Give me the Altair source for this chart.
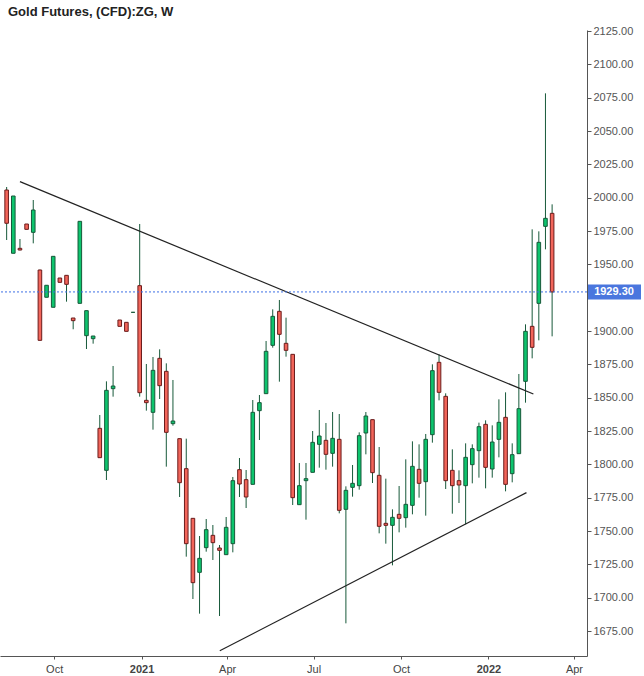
import altair as alt
import pandas as pd

# Weekly candles (positioned mid-week)
dates = list(pd.date_range("2020-08-12", periods=83, freq="7D").strftime("%Y-%m-%dT00:00:00"))

opens = [2005.75, 1958.3, 1962, 1980.25, 1974, 1945.75, 1925.3, 1917.8, 1939.75, 1941.75,
         1909.75, 1920.75, 1896.5, 1894.25, 1827, 1795.5, 1856.75, 1908.25, 1906.5, 1914,
         1934, 1848, 1839, 1879.5, 1869.75, 1830.5, 1819.25, 1796.75, 1759.5, 1719,
         1737.5, 1746.75, 1737.25, 1732.25, 1740.5, 1796, 1788.5, 1785, 1840.25, 1853,
         1889.25, 1914.75, 1890.75, 1882.5, 1769.75, 1787.75, 1794, 1815, 1818, 1808.25,
         1818.75, 1766.25, 1782.75, 1784, 1823.5, 1833.5, 1791.75, 1755.75, 1754.25, 1762.5,
         1760, 1769.25, 1796.25, 1787, 1822.25, 1876.5, 1851, 1795.5, 1787.75, 1784,
         1799.75, 1810.25, 1830, 1796.5, 1818.75, 1835.25, 1793, 1808, 1862.25, 1903.5,
         1920.75, 1978.5, 1988.25]

highs = [2008, 2001.25, 1969, 1980.25, 1998.25, 1946, 1934.3, 1956, 1939.75, 1941.75,
         1909.75, 1982.25, 1915.25, 1896.25, 1837, 1862.25, 1873.75, 1908.25, 1906.5, 1914,
         1980.25, 1875.25, 1880.5, 1886.25, 1875.75, 1863.25, 1819.25, 1819.25, 1759.5, 1746.25,
         1759, 1754.5, 1739.5, 1760.5, 1790.5, 1804.75, 1795.75, 1848.25, 1852, 1892.5,
         1916.25, 1923.25, 1910, 1882.5, 1801, 1801, 1825, 1840.75, 1831, 1839.25,
         1837.75, 1783.5, 1799.5, 1824, 1839.25, 1833.5, 1813, 1789.25, 1766.25, 1783.75,
         1803.75, 1817.25, 1815, 1822.75, 1875, 1882.5, 1853.25, 1811.25, 1795.5, 1815.75,
         1815, 1831.25, 1833, 1829.25, 1848.75, 1854, 1815.75, 1867.75, 1905, 1976.25,
         1974.75, 2078.25, 1995]

lows = [1968.25, 1958.3, 1960.5, 1976.25, 1965.75, 1893, 1925.3, 1917.8, 1936.5, 1922,
        1901.3, 1920.75, 1886.5, 1890.5, 1805, 1788.25, 1850.75, 1903.5, 1899.75, 1914,
        1850.75, 1840.25, 1826, 1849, 1798.25, 1829, 1775.5, 1730.75, 1699, 1688,
        1734.5, 1728.25, 1686.25, 1732.25, 1734, 1775.5, 1767.25, 1785, 1818.25, 1853,
        1887.5, 1862, 1880.75, 1769.5, 1769.75, 1758.5, 1794, 1797.5, 1796, 1798.25,
        1763.25, 1680.75, 1775.75, 1781, 1807.5, 1786, 1748.25, 1740.5, 1724.25, 1749,
        1752.5, 1762.5, 1775, 1761.5, 1816.25, 1848, 1781.5, 1763, 1771, 1755,
        1785.75, 1790, 1782, 1790, 1805.25, 1779.75, 1786.5, 1808, 1846.25, 1879.5,
        1893, 1961.25, 1896]

closes = [1980.8, 2001.25, 1960.75, 1976.25, 1990.75, 1893, 1934.3, 1956, 1936.5, 1935,
          1907.75, 1982.25, 1915.25, 1896.25, 1805, 1855.5, 1858.75, 1903.5, 1899.75, 1914,
          1853.75, 1846.25, 1870.5, 1859, 1824, 1832.5, 1786.25, 1740.5, 1711.25, 1729.5,
          1751, 1741.25, 1735.5, 1752.75, 1787.75, 1785.25, 1775.5, 1839, 1846.25, 1884.75,
          1911, 1897.5, 1885.5, 1775, 1784, 1789.25, 1816.5, 1821.25, 1807.5, 1819.5,
          1765.5, 1780.5, 1785.75, 1821.5, 1836.25, 1793.75, 1753.5, 1754.25, 1760.25, 1759.5,
          1770, 1798.5, 1785.75, 1818.75, 1870.25, 1854, 1787.75, 1784, 1784.5, 1805.25,
          1811.75, 1828.25, 1797.75, 1816.75, 1831.5, 1785, 1807.25, 1841.75, 1899.75, 1887.75,
          1966.5, 1984.5, 1929.3]

# Trend lines (two drawn lines, start/end)
trend_ids = ["upper", "upper", "lower", "lower"]
trend_dates = ["2020-08-26T00:00:00", "2022-02-17T07:00:00",
               "2021-03-24T07:00:00", "2022-02-10T00:00:00"]
trend_values = [2012.0, 1852.75, 1660.15, 1778.8]

last_price = [1929.30]
last_label = ["1929.30"]

# 1925.00 sits under the last-price box in the reference, so it is not labelled
y_ticks = [v for v in range(1675, 2126, 25) if v != 1925]

GREEN = "#0DC46D"
GREEN_D = "#17593A"
RED = "#F2655A"
RED_D = "#6B1C1C"
BLUE = "#3D6FE6"
BOX = "#4A76DE"
FONT = "Liberation Sans"

df = pd.DataFrame({"date": dates, "open": opens, "high": highs, "low": lows, "close": closes})
tdf = pd.DataFrame({"id": trend_ids, "date": trend_dates, "value": trend_values})
pdf = pd.DataFrame({"price": last_price, "label": last_label})

xscale = alt.Scale(domain=[alt.DateTime(year=2020, month=8, date=5),
                           alt.DateTime(year=2022, month=4, date=14, hours=17)],
                   padding=0, nice=False)
yscale = alt.Scale(domain=[1656.25, 2125.75], nice=False, zero=False, padding=0)

x_ticks = [alt.DateTime(year=2020, month=10, date=1), alt.DateTime(year=2021, month=1, date=1),
           alt.DateTime(year=2021, month=4, date=1), alt.DateTime(year=2021, month=7, date=1),
           alt.DateTime(year=2021, month=10, date=1), alt.DateTime(year=2022, month=1, date=1),
           alt.DateTime(year=2022, month=4, date=1)]

x_axis = alt.Axis(values=x_ticks,
                  labelExpr="month(datum.value)==0 ? timeFormat(datum.value, '%Y') : timeFormat(datum.value, '%b')",
                  labelFontWeight={"expr": "month(datum.value)==0 ? 'bold' : 'normal'"},
                  tickSize=3, labelPadding=4, labelFontSize=11, labelColor="#444",
                  labelFont=FONT, tickColor="#555", domainColor="#555", grid=False,
                  labelFlush=False, title=None)
y_axis = alt.Axis(orient="right", values=y_ticks, format=".2f", tickSize=4, labelPadding=2,
                  labelFontSize=11, labelColor="#555", labelFont=FONT, tickColor="#555",
                  domainColor="#555", grid=False, title=None)

X = alt.X("date:T", scale=xscale, axis=x_axis)

wicks = alt.Chart(df).mark_rule(color=GREEN_D, strokeWidth=1).encode(
    x=X,
    y=alt.Y("low:Q", scale=yscale, axis=y_axis),
    y2="high:Q",
)

up = "datum.close >= datum.open"
bodies = alt.Chart(df).mark_bar(size=3.6, strokeWidth=1).encode(
    x=X,
    y=alt.Y("open:Q", scale=yscale, axis=y_axis),
    y2="close:Q",
    fill=alt.condition(up, alt.value(GREEN), alt.value(RED)),
    stroke=alt.condition(up, alt.value(GREEN_D), alt.value(RED_D)),
)

trends = alt.Chart(tdf).mark_line(color="#222222", strokeWidth=1.2).encode(
    x=X,
    y=alt.Y("value:Q", scale=yscale, axis=y_axis),
    detail="id:N",
)

price_rule = alt.Chart(pdf).mark_rule(color=BLUE, strokeDash=[2, 2], strokeWidth=1).encode(
    y=alt.Y("price:Q", scale=yscale, axis=y_axis)
)

price_box = alt.Chart(pdf).mark_rect(color=BOX, yOffset=-7.5, y2Offset=7.5).encode(
    x=alt.value(588), x2=alt.value(641),
    y=alt.Y("price:Q", scale=yscale, axis=y_axis), y2="price:Q",
)

price_text = alt.Chart(pdf).mark_text(color="white", fontWeight="bold", fontSize=11, font=FONT,
                                      align="center", baseline="middle").encode(
    x=alt.value(614),
    y=alt.Y("price:Q", scale=yscale, axis=y_axis),
    text="label:N",
)

chart = alt.layer(wicks, bodies, trends, price_rule, price_box, price_text).properties(
    width=587, height=626,
    title=alt.TitleParams("Gold Futures, (CFD):ZG, W", anchor="start", frame="group", dx=8,
                          offset=10, dy=13.5, fontSize=13, font=FONT, fontWeight="bold",
                          color="#222222", baseline="alphabetic"),
    padding={"left": 0, "top": 30, "right": 57, "bottom": 20},
    autosize=alt.AutoSizeParams(type="none"),
    background="white",
).configure_view(strokeWidth=0)

chart.save("out.html", embed_options={"renderer": "svg", "actions": False})
